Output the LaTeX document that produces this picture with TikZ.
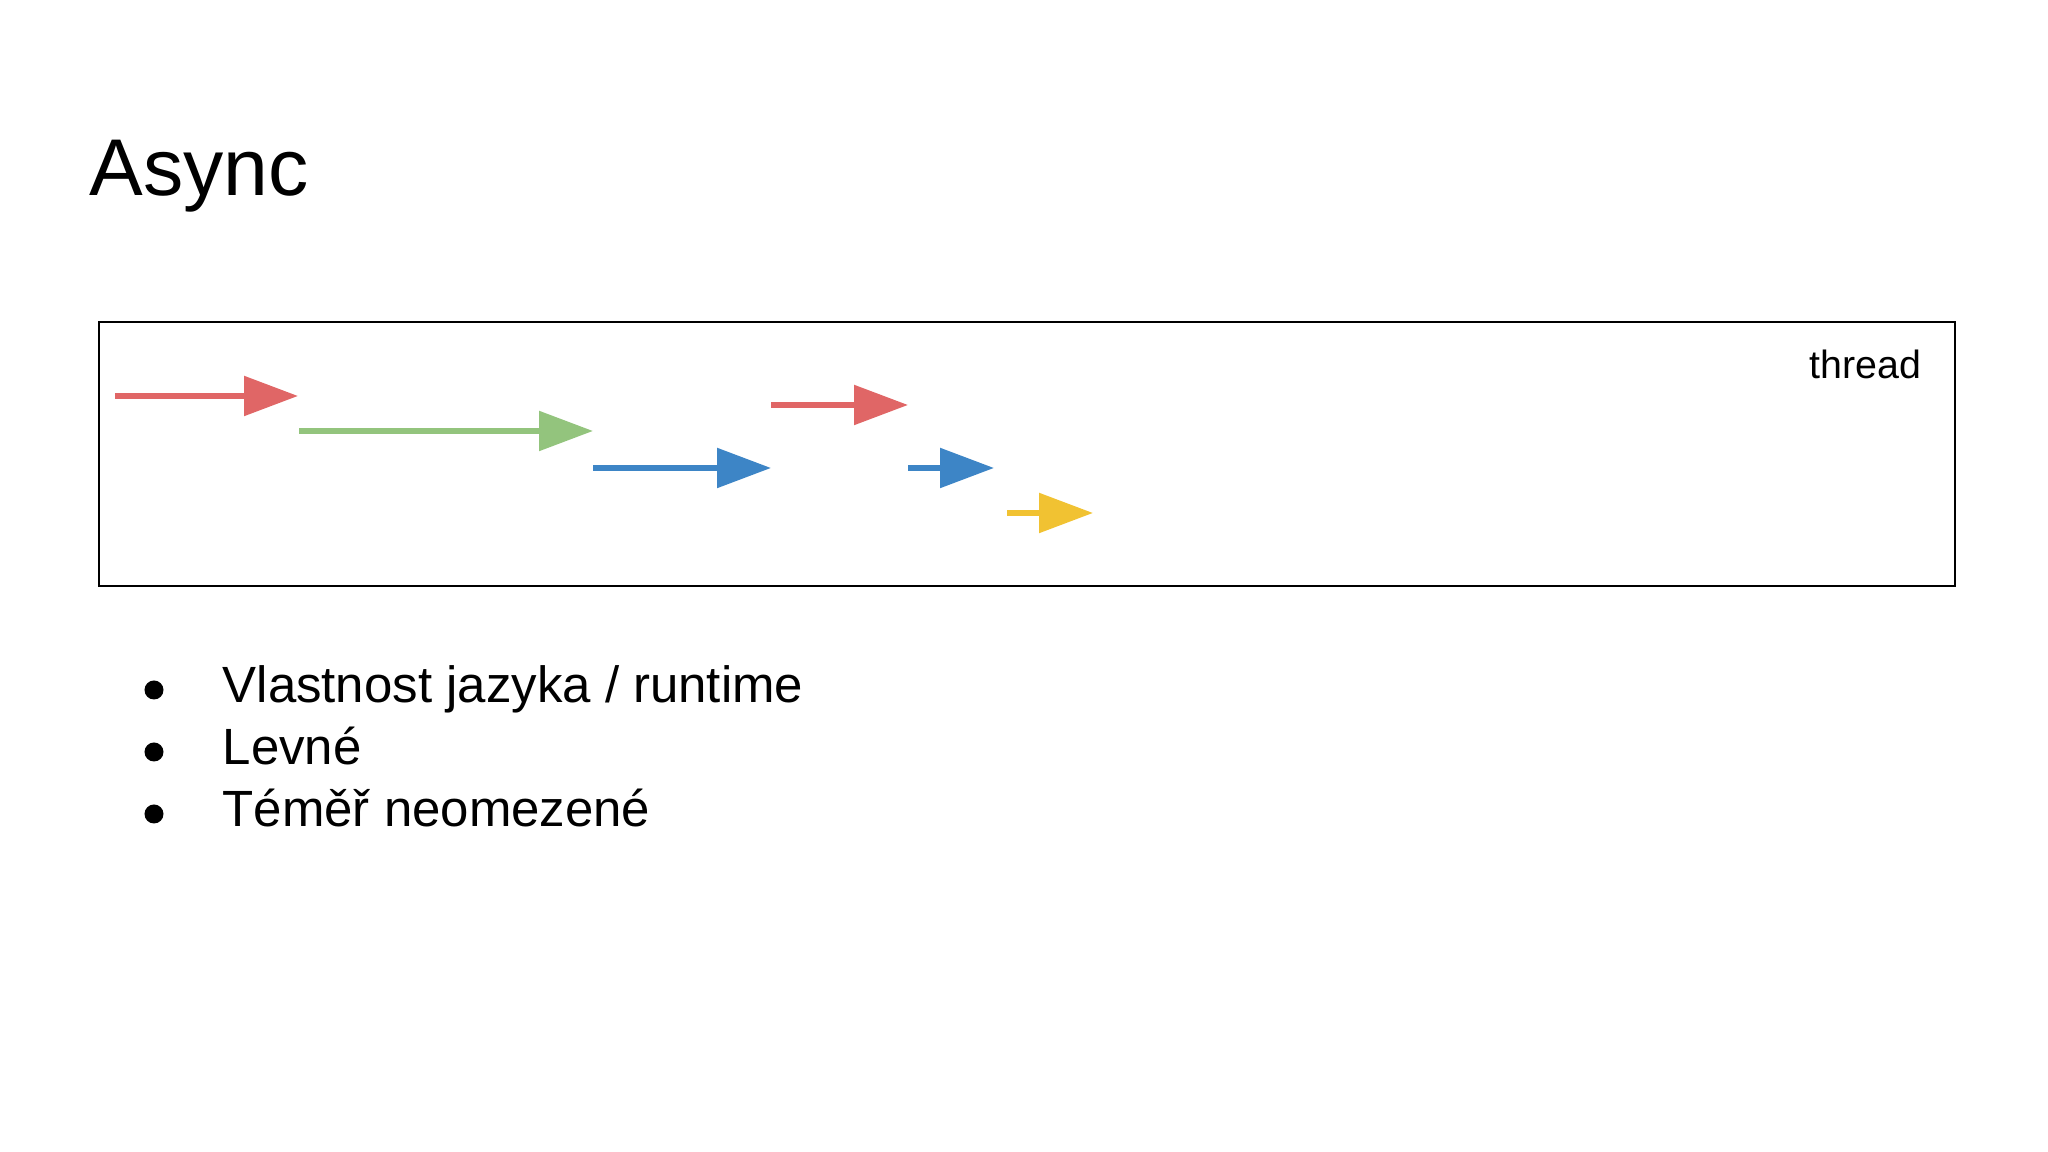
\documentclass[tikz,border=0pt]{standalone}
\usepackage{fontspec}
\setmainfont{Liberation Sans}
\usetikzlibrary{arrows.meta}
\definecolor{cred}{HTML}{E06666}
\definecolor{cgreen}{HTML}{93C47D}
\definecolor{cblue}{HTML}{3D85C6}
\definecolor{cyellow}{HTML}{F1C232}
\tikzset{flow/.style={line width=0.055cm,-{Triangle[length=0.54cm,width=0.39cm]}}}
\begin{document}
\begin{tikzpicture}
\useasboundingbox (0,0) rectangle (20.48,11.52);
\node[anchor=base west,inner sep=0,font=\fontsize{22.9}{27}\selectfont] (title) at (0.89,9.56) {Async};
\node[draw,line width=0.6pt,minimum width=18.56cm,minimum height=2.64cm,anchor=north west,inner sep=0] (box) at (0.98,8.31) {};
\node[anchor=base east,inner sep=0,font=\fontsize{11.2}{13}\selectfont] (thr) at (19.22,7.73) {thread};
\coordinate (r1a) at (1.15,7.56); \coordinate (r1b) at (2.98,7.56);
\coordinate (ga) at (2.99,7.21); \coordinate (gb) at (5.93,7.21);
\coordinate (b1a) at (5.93,6.84); \coordinate (b1b) at (7.71,6.84);
\coordinate (r2a) at (7.71,7.47); \coordinate (r2b) at (9.08,7.47);
\coordinate (b2a) at (9.08,6.84); \coordinate (b2b) at (9.94,6.84);
\coordinate (ya) at (10.07,6.39); \coordinate (yb) at (10.93,6.39);
\draw[flow,cred] (r1a) -- (r1b);
\draw[flow,cgreen] (ga) -- (gb);
\draw[flow,cblue] (b1a) -- (b1b);
\draw[flow,cred] (r2a) -- (r2b);
\draw[flow,cblue] (b2a) -- (b2b);
\draw[flow,cyellow] (ya) -- (yb);
\foreach \y/\t [count=\i] in {4.49/{Vlastnost jazyka / runtime},3.87/{Levné},3.25/{Téměř neomezené}}{
  \fill (1.54,\y+0.13) circle (0.095cm);
  \node[anchor=base west,inner sep=0,font=\fontsize{14.5}{17}\selectfont] (b\i) at (2.22,\y) {\t};
}
\end{tikzpicture}
\end{document}
